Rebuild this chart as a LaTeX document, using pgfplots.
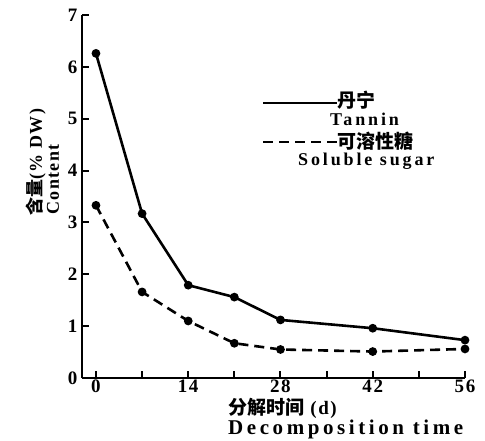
\documentclass[border=0pt]{standalone}
\usepackage{pgfplots}
\pgfplotsset{compat=1.18}
\usepackage{fontspec}
\setmainfont{Liberation Serif}[LetterSpace=8]
\newfontfamily\cjk{Noto Sans CJK SC}
\begin{document}
\begin{tikzpicture}[x=1pt,y=1pt]
\path (0,0) rectangle (485,440);
\begin{axis}[
  at={(82pt,62pt)}, anchor=south west,
  scale only axis, width=383pt, height=363pt,
  xmin=-2.12, xmax=56, ymin=0, ymax=7,
  axis x line*=bottom, axis y line*=left,
  axis line style={-, line width=2.2pt},
  xtick={0,7,...,56}, xticklabels={0,,14,,28,,42,,56},
  ytick={0,1,...,7},
  tick align=inside, major tick length=7pt,
  tick style={line width=2pt, black},
  /pgf/number format/assume math mode=true,
  ticklabel style={font=\bfseries\fontsize{19}{19}\selectfont},
  xticklabel style={yshift=2pt},
  yticklabel style={xshift=-1pt},
  clip=false,
]
\addplot[black, line width=2.6pt, mark=*, mark size=3pt] coordinates {(0,6.26)(7,3.17)(14,1.79)(21,1.56)(28,1.12)(42,0.96)(56,0.73)};
\addplot[black, line width=2.6pt, dash pattern=on 10pt off 6pt, mark=*, mark size=3pt, mark options={solid}] coordinates {(0,3.33)(7,1.66)(14,1.10)(21,0.67)(28,0.55)(42,0.51)(56,0.56)};
\end{axis}
% y label
\node[rotate=90, anchor=west, inner sep=0pt, font=\bfseries\fontsize{18}{18}\selectfont] at (36,224) {{\cjk\bfseries 含量}(\% DW)};
\node[rotate=90, anchor=west, inner sep=0pt, font=\bfseries\fontsize{18}{18}\selectfont] at (53,225) {Content};
% x label
\node[anchor=west, inner sep=0pt, font=\bfseries\fontsize{19}{19}\selectfont] at (228,32) {{\cjk\bfseries 分解时间} (d)};
\node[anchor=west, inner sep=0pt, font=\bfseries\fontsize{21}{21}\selectfont\addfontfeature{LetterSpace=17}] at (228,11) {Decomposition time};
% legend
\draw[line width=2.6pt] (263,337) -- (337,337);
\node[anchor=west, inner sep=0pt, font=\cjk\bfseries\fontsize{19}{19}\selectfont] at (337,340) {丹宁};
\node[anchor=west, inner sep=0pt, font=\bfseries\fontsize{18}{18}\selectfont\addfontfeature{LetterSpace=16}] at (330,321) {Tannin};
\draw[line width=2.6pt, dash pattern=on 10pt off 6pt] (263,298) -- (337,298);
\node[anchor=west, inner sep=0pt, font=\cjk\bfseries\fontsize{19}{19}\selectfont] at (337,299) {可溶性糖};
\node[anchor=west, inner sep=0pt, font=\bfseries\fontsize{18}{18}\selectfont\addfontfeature{LetterSpace=16}] at (298,279) {Soluble sugar};
\end{tikzpicture}
\end{document}
